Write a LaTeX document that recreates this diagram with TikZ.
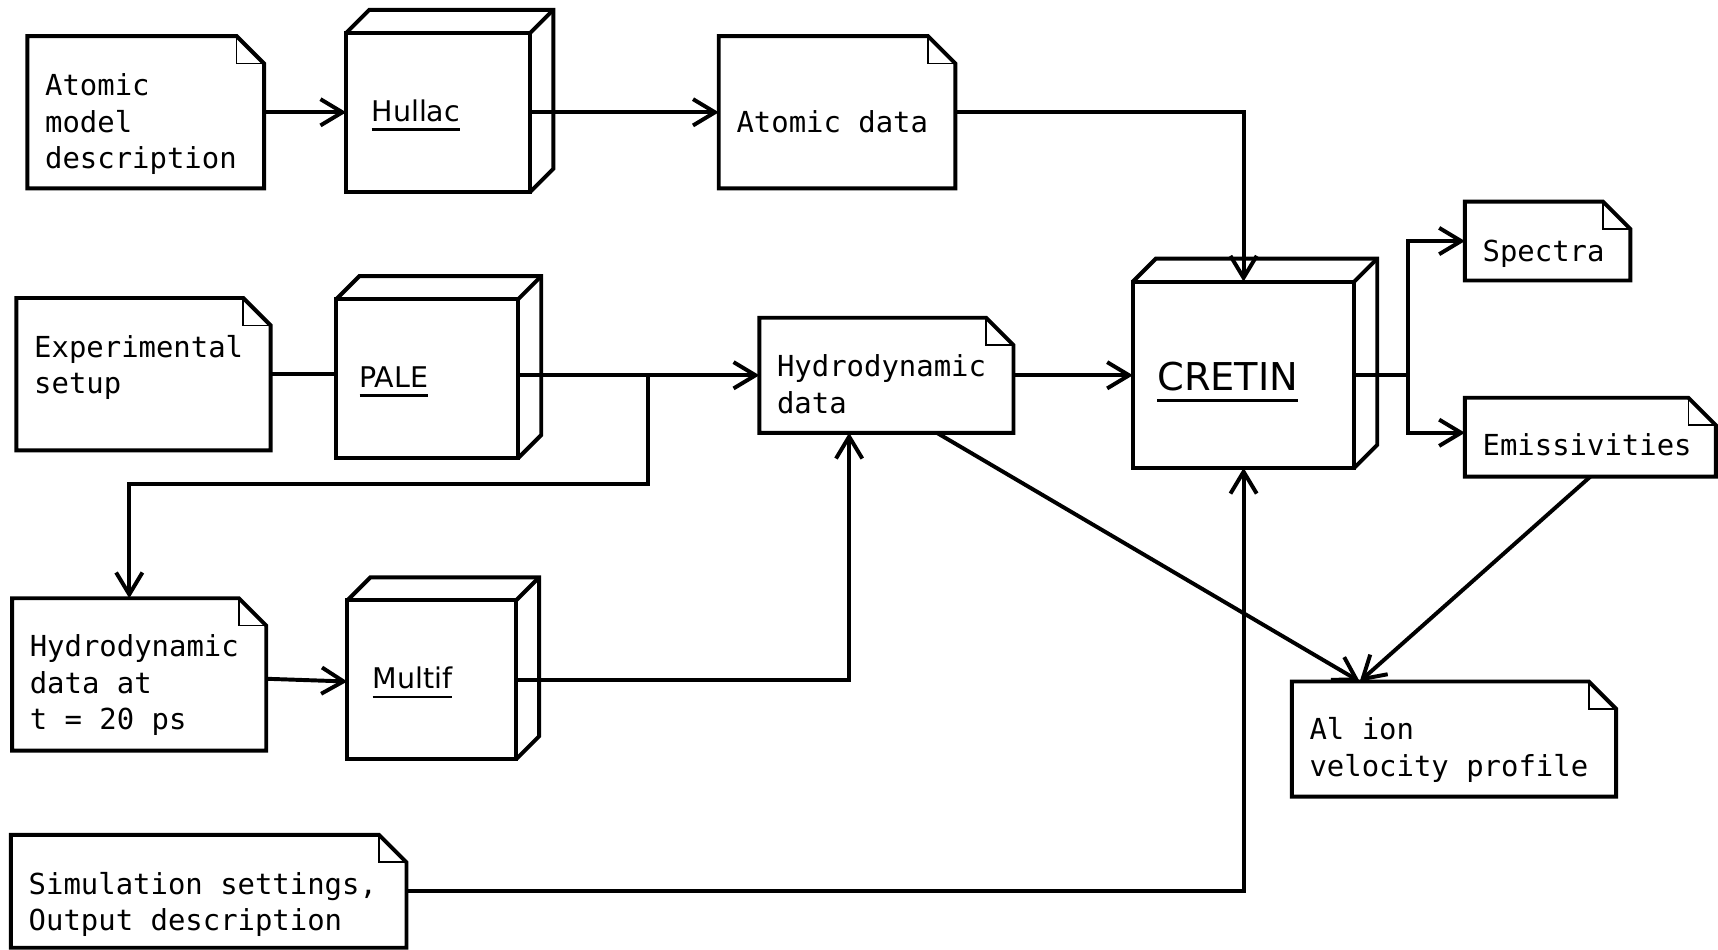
\documentclass[tikz,border=0pt]{standalone}
\usepackage{fontspec}
\setmainfont{DejaVu Sans}
\setmonofont{DejaVu Sans Mono}
\usetikzlibrary{arrows.meta,calc}

\newcommand\undl[3]{\setbox0\hbox{#1}\dimen0=\wd0\rlap{\box0}\rule[-#2]{\dimen0}{#3}}
\newcommand\monosize{\ttfamily\fontsize{26.4}{33.5}\selectfont}

\tikzset{
  conn/.style={line width=3.6pt, -{Straight Barb[length=20pt,width=24pt,line width=3.6pt]}},
  plainline/.style={line width=3.6pt},
  notebox/.style={rectangle, draw=none, anchor=north west, inner sep=0pt, outer sep=0pt},
  notetext/.style={font=\monosize, anchor=base west, inner sep=0pt, text width=420pt, align=flush left},
  boxface/.style={rectangle, draw, line width=3.6pt, anchor=north west, inner sep=0pt, outer sep=0pt},
  boxtext/.style={font=\fontsize{26}{31}\selectfont, anchor=base west, inner sep=0pt},
  bigtext/.style={font=\fontsize{35}{40}\selectfont, anchor=base west, inner sep=0pt},
}

% name, x1, y1, x2, y2, baseline y of first line, text
\newcommand\notenode[7]{%
  \node[notebox, minimum width={#4-#2}, minimum height={#5-#3}] (#1) at (#2,#3) {};
  \draw[line width=3.6pt] (#1.north west) -- ([xshift=-25pt]#1.north east) -- ([yshift=-25pt]#1.north east) -- (#1.south east) -- (#1.south west) -- cycle;
  \draw[line width=1.5pt] ([xshift=-25pt]#1.north east) |- ([yshift=-25pt]#1.north east);
  \node[notetext] (#1t) at ($(#1.north west)+(16,#6-#3)$) {#7};
}
% name, x1, y1, x2, y2, depth
\newcommand\cubenode[6]{%
  \node[boxface, minimum width={#4-#2}, minimum height={#5-#3}] (#1) at (#2,#3) {};
  \draw[line width=3.6pt] (#1.north west) -- ++(#6,-#6) -- ([shift={(#6,-#6)}]#1.north east) -- ([shift={(#6,-#6)}]#1.south east) -- (#1.south east);
  \draw[line width=3.6pt] (#1.north east) -- ++(#6,-#6);
}

\begin{document}
\begin{tikzpicture}[x=1pt, y=-1pt]
\useasboundingbox (0,0) rectangle (1568,867);

\notenode{atom}{25}{33}{241}{172}{87}{Atomic\\model\\description}
\cubenode{hullac}{316}{30}{484}{175}{21}
\node[boxtext] (hullact) at ($(hullac.west)+(23,8)$) {\undl{Hullac}{9pt}{2.6pt}};
\notenode{atomdata}{656}{33}{872}{172}{121}{Atomic data}

\notenode{exp}{15}{272}{247}{411}{326}{Experimental\\setup}
\cubenode{pale}{307}{273}{473}{418}{21}
\node[boxtext] (palet) at ($(pale.west)+(21,8)$) {\undl{PALE}{9pt}{2.6pt}};
\notenode{hyd}{693}{290}{925}{395}{344}{Hydrodynamic\\data}

\cubenode{cretin}{1034}{257}{1236}{427}{21}
\node[bigtext] (cretint) at ($(cretin.west)+(22,14)$) {\undl{CRETIN}{11pt}{3pt}};
\notenode{spectra}{1337}{184}{1488}{256}{239}{Spectra}
\notenode{emis}{1337}{363}{1566}{435}{416}{Emissivities}

\notenode{h20}{11}{546}{243}{685}{599}{Hydrodynamic\\data at\\t = 20 ps}
\cubenode{multif}{317}{548}{471}{693}{21}
\node[boxtext] (multift) at ($(multif.west)+(23,8)$) {\undl{Multif}{9pt}{2.6pt}};

\notenode{alion}{1179}{622}{1475}{727}{675}{Al ion\\velocity profile}
\notenode{sim}{10}{762}{371}{865}{816}{Simulation settings,\\Output description}

% connectors
\draw[conn] (atom.east) -- (hullac.west);
\draw[conn] (hullac.east) -- (atomdata.west);
\draw[conn] (atomdata.east) -| (cretin.north);
\draw[plainline] (exp.east) -- (exp.east -| pale.west);
\draw[conn] (hyd.west -| pale.east) -- (hyd.west);
\coordinate (br) at (591,342.5);
\coordinate (brc) at (591,442);
\draw[conn] (br) -- (brc) -| ([xshift=-9pt]h20.north);
\draw[conn] ([yshift=-4pt]h20.east) -- ([yshift=-1.5pt]multif.west);
\draw[conn] (multif.east) -| ([xshift=82pt]hyd.south west);
\draw[conn] (hyd.east) -- (hyd.east -| cretin.west);
\coordinate (split) at (1285,342);
\draw[plainline] (cretin.east) -- (split);
\draw[conn] (split) |- (spectra.west);
\draw[conn] (split) |- ([yshift=4pt]emis.west);
\draw[conn] ([xshift=162pt]hyd.south west) -- ([xshift=62pt]alion.north west);
\draw[conn] (emis.south) -- ([xshift=62pt]alion.north west);
\draw[conn] (sim.east) -| (cretin.south);
\end{tikzpicture}
\end{document}
